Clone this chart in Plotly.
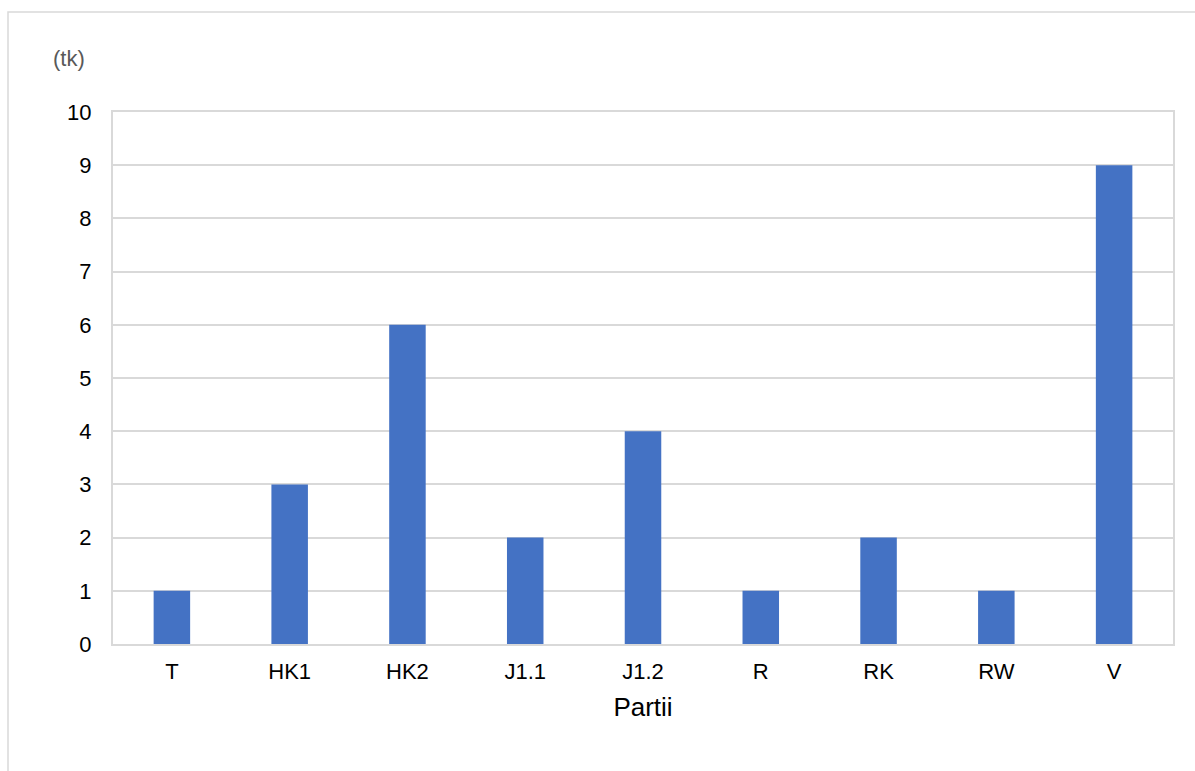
import plotly.graph_objects as go

categories = ["T", "HK1", "HK2", "J1.1", "J1.2", "R", "RK", "RW", "V"]
values = [1, 3, 6, 2, 4, 1, 2, 1, 9]
y_ticks = list(range(0, 11))

L, R, T, B = 113, 22, 112, 127
W, H = 1195, 771
pw, ph = W - L - R, H - T - B

def px(x):
    return (x - L) / pw

def py(y):
    return (H - B - y) / ph

fig = go.Figure(go.Bar(x=categories, y=values, marker_color="#4472C4",
                       marker_line_width=0, width=0.31))

fig.update_layout(
    width=W, height=H,
    margin=dict(l=L, r=R, t=T, b=B),
    paper_bgcolor="white", plot_bgcolor="white",
    font=dict(family="Liberation Sans, Arial", size=22, color="#000000"),
    showlegend=False,
    xaxis=dict(title=dict(text="Partii", font=dict(size=26), standoff=14),
               tickfont=dict(size=22),
               showgrid=False, showline=True, linecolor="#d9d9d9", linewidth=2,
               mirror=True, ticks="outside", tickcolor="rgba(0,0,0,0)", ticklen=7),
    yaxis=dict(range=[0, 10], tickvals=y_ticks, tickfont=dict(size=22),
               showgrid=True, gridcolor="#d9d9d9",
               gridwidth=1.5, showline=True, linecolor="#d9d9d9", linewidth=2,
               mirror=True, zeroline=False, ticks="outside",
               tickcolor="rgba(0,0,0,0)", ticklen=15),
    shapes=[dict(type="rect", xref="paper", yref="paper",
                 x0=px(8), x1=px(1210), y0=py(790), y1=py(12),
                 line=dict(color="#d9d9d9", width=1.5), layer="below")],
    annotations=[dict(text="(tk)", xref="paper", yref="paper", x=px(69), y=py(58),
                      xanchor="center", yanchor="middle",
                      showarrow=False, font=dict(size=22, color="#595959"))],
)

fig.write_html("out.html")
